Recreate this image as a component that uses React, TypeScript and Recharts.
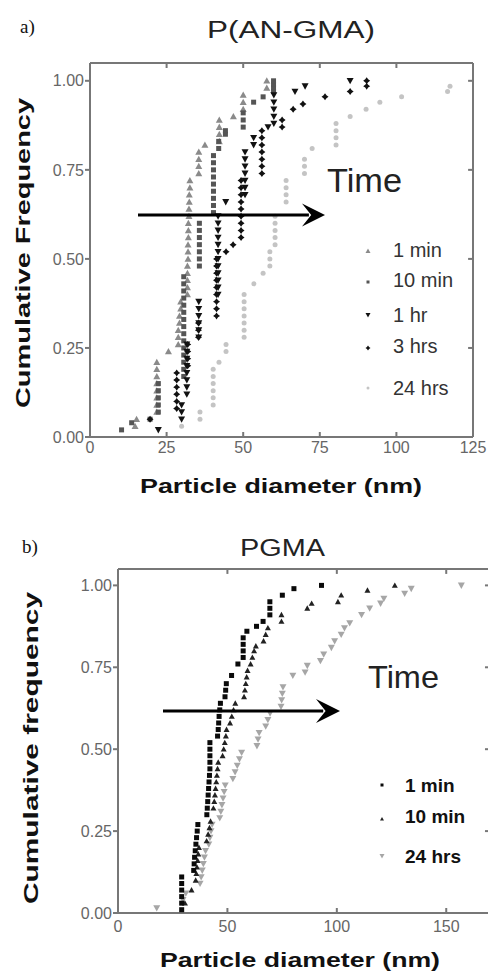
import React from "react";
import { ScatterChart, Scatter, XAxis, YAxis, ReferenceLine } from "recharts";

type Pt = [number, number];

// a) P(AN-GMA): [particle diameter (nm), cumulative frequency]
const anMin1: Pt[] = [
  [14.7, 0.03], [15.2, 0.05],
  [21.8, 0.07], [21.8, 0.09], [21.8, 0.11], [21.8, 0.13], [21.8, 0.15], [21.8, 0.17], [21.8, 0.19], [21.8, 0.21],
  [25.6, 0.24],
  [28.8, 0.26], [28.8, 0.28], [28.8, 0.3], [29.2, 0.32], [29.2, 0.34], [29.6, 0.36], [29.6, 0.38],
  [31.8, 0.4], [31.8, 0.42], [31.8, 0.44], [31.8, 0.46], [31.8, 0.48], [32.0, 0.5], [32.0, 0.52], [32.0, 0.54],
  [32.1, 0.56], [32.1, 0.58], [32.1, 0.6], [32.3, 0.62], [32.3, 0.64], [32.4, 0.66], [32.4, 0.68], [32.6, 0.7], [32.6, 0.72],
  [35.5, 0.74], [35.5, 0.76], [35.5, 0.78], [35.5, 0.8],
  [37.5, 0.82],
  [42.2, 0.83], [42.2, 0.85], [42.2, 0.87], [42.2, 0.89],
  [46.8, 0.9],
  [50.0, 0.92], [50.0, 0.94], [50.0, 0.96],
  [57.7, 0.98], [57.7, 1.0],
];

const anMin10: Pt[] = [
  [10.3, 0.02], [13.6, 0.04], [19.6, 0.05],
  [22.3, 0.07], [22.3, 0.09], [22.3, 0.11], [22.3, 0.13], [22.3, 0.15],
  [30.6, 0.17], [30.6, 0.19], [30.6, 0.21], [30.6, 0.23], [30.6, 0.25], [30.6, 0.27], [30.6, 0.29], [30.6, 0.31],
  [30.6, 0.33], [30.6, 0.35], [30.6, 0.37], [30.6, 0.39], [30.6, 0.41], [30.6, 0.43], [30.6, 0.45],
  [35.7, 0.48], [35.7, 0.5], [35.7, 0.52], [35.7, 0.54], [35.7, 0.56], [35.7, 0.58], [35.7, 0.6],
  [40.3, 0.63], [40.3, 0.65], [40.3, 0.67], [40.3, 0.69], [40.3, 0.71], [40.3, 0.73], [40.3, 0.75], [40.3, 0.77], [40.3, 0.79],
  [42.0, 0.81], [42.0, 0.83], [44.2, 0.85], [44.2, 0.86],
  [50.0, 0.87], [50.0, 0.89], [50.0, 0.91],
  [53.4, 0.94], [56.5, 0.955],
  [59.9, 0.97], [59.9, 0.98], [59.9, 0.99], [59.9, 1.0],
];

const anHr1: Pt[] = [
  [22.3, 0.02],
  [29.9, 0.05], [29.9, 0.07], [29.9, 0.09],
  [31.6, 0.12], [31.6, 0.14], [31.6, 0.16], [31.6, 0.18], [31.6, 0.2], [31.6, 0.22], [31.6, 0.24], [31.6, 0.26],
  [35.5, 0.28], [35.5, 0.3], [35.5, 0.32], [35.5, 0.34], [35.5, 0.36], [35.5, 0.38],
  [41.8, 0.4], [41.8, 0.42], [41.8, 0.44], [41.8, 0.46], [41.8, 0.48], [41.8, 0.5], [41.8, 0.52], [41.8, 0.54],
  [41.8, 0.56], [41.8, 0.58], [41.8, 0.6], [41.8, 0.62],
  [44.3, 0.66],
  [50.6, 0.68], [50.6, 0.7], [50.6, 0.72], [50.6, 0.74], [50.6, 0.76], [50.6, 0.78], [50.6, 0.8],
  [53.4, 0.82], [53.4, 0.84],
  [58.1, 0.87],
  [60.0, 0.88], [60.0, 0.9], [60.0, 0.92], [60.0, 0.94], [60.0, 0.96],
  [66.9, 0.97], [70.2, 0.985], [84.9, 1.0],
];

const anHr3: Pt[] = [
  [19.6, 0.05],
  [28.3, 0.08], [28.3, 0.1], [28.3, 0.12], [28.3, 0.14], [28.3, 0.16], [28.3, 0.18],
  [31.9, 0.2], [31.9, 0.22], [31.9, 0.24], [31.9, 0.26],
  [35.4, 0.28], [35.4, 0.3], [35.4, 0.32],
  [41.3, 0.34], [41.3, 0.36], [41.3, 0.38], [41.3, 0.4], [41.3, 0.42], [41.3, 0.44], [41.3, 0.46], [41.3, 0.48], [41.3, 0.5],
  [44.4, 0.52], [46.7, 0.54],
  [49.3, 0.56], [49.3, 0.58], [49.3, 0.6], [49.3, 0.62], [49.3, 0.64], [49.3, 0.66], [49.3, 0.68], [49.3, 0.7], [49.3, 0.72],
  [56.1, 0.74], [56.1, 0.76], [56.1, 0.78], [56.1, 0.8], [56.1, 0.82], [56.1, 0.84], [56.1, 0.86],
  [62.7, 0.87], [62.7, 0.89],
  [66.3, 0.92], [69.5, 0.935], [76.7, 0.955], [84.9, 0.97], [90.3, 0.985], [90.3, 1.0],
];

const anHr24: Pt[] = [
  [29.9, 0.03], [35.9, 0.05], [35.9, 0.07],
  [40.2, 0.09], [40.2, 0.11], [40.2, 0.13], [40.2, 0.15], [40.2, 0.17], [40.2, 0.19],
  [42.1, 0.21],
  [44.4, 0.24], [44.4, 0.26],
  [50.3, 0.28], [50.3, 0.3], [50.3, 0.32], [50.3, 0.34], [50.3, 0.36], [50.3, 0.38], [50.3, 0.4],
  [53.5, 0.43], [56.5, 0.46],
  [58.7, 0.48], [58.7, 0.5], [58.7, 0.52],
  [60.4, 0.54], [60.4, 0.56], [60.4, 0.58], [60.4, 0.6], [60.4, 0.62],
  [64.0, 0.66], [64.0, 0.68], [64.0, 0.7], [64.0, 0.72],
  [70.0, 0.74], [70.0, 0.76], [70.0, 0.78],
  [72.5, 0.81],
  [80.3, 0.82], [80.3, 0.84], [80.3, 0.86], [80.3, 0.88],
  [84.9, 0.9], [90.1, 0.92], [94.6, 0.94], [101.7, 0.955], [116.7, 0.97], [117.5, 0.985],
];

// b) PGMA
const gmMin1: Pt[] = [
  [29.1, 0.01], [29.1, 0.03], [29.1, 0.05], [29.1, 0.07], [29.1, 0.09], [29.1, 0.11],
  [34.6, 0.13], [34.8, 0.15], [35.0, 0.17], [35.3, 0.19], [35.6, 0.21], [35.9, 0.23], [36.2, 0.25], [36.5, 0.27],
  [40.6, 0.3], [40.8, 0.32], [41.0, 0.34], [41.2, 0.36], [41.4, 0.38], [41.6, 0.4], [41.8, 0.42],
  [42.0, 0.44], [42.0, 0.46], [42.0, 0.48], [42.0, 0.5], [42.0, 0.52],
  [45.5, 0.54], [45.8, 0.56], [46.0, 0.58], [46.2, 0.6], [46.5, 0.62], [46.8, 0.64],
  [48.9, 0.66], [49.2, 0.68], [49.5, 0.7],
  [51.9, 0.725], [54.8, 0.76],
  [57.2, 0.78], [57.2, 0.8], [57.2, 0.82], [57.2, 0.84],
  [58.9, 0.86], [63.3, 0.875], [66.3, 0.89],
  [69.4, 0.91], [69.4, 0.93], [69.4, 0.95],
  [75.1, 0.97], [80.4, 0.99], [93.0, 1.0],
];

const gmMin10: Pt[] = [
  [30.6, 0.03], [33.6, 0.07],
  [35.5, 0.1], [35.8, 0.12], [36.1, 0.14], [36.4, 0.16], [36.7, 0.18], [37.0, 0.2],
  [40.5, 0.22], [41.2, 0.24], [41.8, 0.26], [42.3, 0.28],
  [43.6, 0.32], [44.0, 0.34], [44.3, 0.36], [44.6, 0.38], [44.9, 0.4], [45.2, 0.42], [45.5, 0.44], [45.8, 0.46],
  [47.8, 0.48], [48.3, 0.5], [48.8, 0.52], [49.3, 0.54], [49.6, 0.56],
  [51.2, 0.58], [52.0, 0.6], [52.8, 0.62], [53.6, 0.64],
  [57.6, 0.66], [58.0, 0.68], [58.4, 0.7], [58.8, 0.72], [59.2, 0.74],
  [60.6, 0.76], [61.4, 0.78], [62.2, 0.8], [63.0, 0.815],
  [66.5, 0.83], [67.5, 0.85], [68.5, 0.87],
  [74.7, 0.89], [74.7, 0.91],
  [86.5, 0.93], [88.5, 0.945],
  [100.5, 0.95], [102.0, 0.97],
  [114.0, 0.985], [126.5, 1.0],
];

const gmHr24: Pt[] = [
  [17.7, 0.015], [29.7, 0.04], [31.0, 0.06],
  [37.5, 0.09], [38.0, 0.11], [38.5, 0.13], [39.0, 0.15], [39.5, 0.17], [40.0, 0.19],
  [41.5, 0.21], [42.0, 0.23], [42.5, 0.25], [43.0, 0.27],
  [46.5, 0.29], [47.0, 0.31], [47.5, 0.33], [48.0, 0.35], [48.5, 0.37], [49.0, 0.39],
  [52.5, 0.41], [53.5, 0.43], [54.5, 0.45], [55.5, 0.47], [56.5, 0.49],
  [63.5, 0.51], [64.0, 0.53], [64.5, 0.55],
  [67.5, 0.57], [68.5, 0.59], [69.5, 0.61],
  [74.5, 0.63], [74.8, 0.65], [75.1, 0.67], [75.4, 0.69],
  [79.9, 0.725], [85.5, 0.735], [86.5, 0.755],
  [92.5, 0.77], [94.0, 0.79],
  [97.5, 0.81], [99.0, 0.83],
  [102.0, 0.85], [103.5, 0.87],
  [105.9, 0.885], [111.3, 0.91], [115.0, 0.93],
  [120.0, 0.945], [121.5, 0.96],
  [131.0, 0.975], [134.0, 0.99], [156.9, 1.0],
];

const xTicksA = [0, 25, 50, 75, 100, 125];
const xTicksB = [0, 50, 100, 150];
const yTicks = [0, 0.25, 0.5, 0.75, 1.0];
const Y_MAX = 1.05;

const FONT = "'Liberation Sans', Arial, sans-serif";
const FRAME = "#777777";

const rows = (pts: Pt[]) => pts.map(([d, f]) => ({ d, f }));

// marker shapes
function marker(kind: string, size: number, fill: string) {
  return (p: any) => {
    const { cx, cy } = p;
    const h = size / 2;
    if (kind === "up")
      return <polygon points={`${cx - h},${cy + h * 0.8} ${cx + h},${cy + h * 0.8} ${cx},${cy - h}`} fill={fill} />;
    if (kind === "down")
      return <polygon points={`${cx - h},${cy - h * 0.8} ${cx + h},${cy - h * 0.8} ${cx},${cy + h}`} fill={fill} />;
    if (kind === "square")
      return <rect x={cx - h} y={cy - h} width={size} height={size} fill={fill} />;
    if (kind === "star") {
      const q = h * 0.42;
      return (
        <polygon
          points={`${cx},${cy - h} ${cx + q},${cy - q} ${cx + h},${cy} ${cx + q},${cy + q} ${cx},${cy + h} ${cx - q},${cy + q} ${cx - h},${cy} ${cx - q},${cy - q}`}
          fill={fill}
        />
      );
    }
    return <circle cx={cx} cy={cy} r={h} fill={fill} />;
  };
}

type Series = { name: string; pts: Pt[]; kind: string; size: number; fill: string };

const seriesA: Series[] = [
  { name: "24 hrs", pts: anHr24, kind: "circle", size: 5, fill: "#c4c4c4" },
  { name: "1 min", pts: anMin1, kind: "up", size: 7, fill: "#8a8a8a" },
  { name: "10 min", pts: anMin10, kind: "square", size: 5, fill: "#555555" },
  { name: "1 hr", pts: anHr1, kind: "down", size: 7, fill: "#111111" },
  { name: "3 hrs", pts: anHr3, kind: "star", size: 7, fill: "#111111" },
];

const seriesB: Series[] = [
  { name: "24 hrs", pts: gmHr24, kind: "down", size: 7, fill: "#a6a6a6" },
  { name: "10 min", pts: gmMin10, kind: "up", size: 6, fill: "#222222" },
  { name: "1 min", pts: gmMin1, kind: "square", size: 5, fill: "#0a0a0a" },
];

const tickStyle = { fill: "#666", fontSize: 16, fontFamily: FONT };

function PanelA() {
  return (
    <ScatterChart width={488} height={470} margin={{ top: 63, right: 15, bottom: 13, left: 30 }}>
      <XAxis type="number" dataKey="d" domain={[0, 125]} ticks={xTicksA} height={20} tickSize={-5} tickMargin={10}
        stroke={FRAME} strokeWidth={2} tick={tickStyle} />
      <YAxis type="number" dataKey="f" domain={[0, Y_MAX]} ticks={yTicks} width={60} tickSize={5} tickMargin={1}
        stroke={FRAME} strokeWidth={2} tick={tickStyle} tickFormatter={(v: number) => v.toFixed(2)} />
      <ReferenceLine y={Y_MAX} stroke={FRAME} strokeWidth={2} ifOverflow="visible" />
      <ReferenceLine x={125} stroke={FRAME} strokeWidth={2} ifOverflow="visible" />
      {xTicksA.map((t) => (
        <ReferenceLine key={"ta" + t} segment={[{ x: t, y: Y_MAX }, { x: t, y: Y_MAX - 0.014 }]} stroke={FRAME} strokeWidth={2} ifOverflow="visible" />
      ))}
      {yTicks.map((t) => (
        <ReferenceLine key={"ra" + t} segment={[{ x: 125 - 1.6, y: t }, { x: 125, y: t }]} stroke={FRAME} strokeWidth={2} ifOverflow="visible" />
      ))}
      {seriesA.map((s) => (
        <Scatter key={s.name} name={s.name} data={rows(s.pts)} shape={marker(s.kind, s.size, s.fill)} isAnimationActive={false} />
      ))}
    </ScatterChart>
  );
}

function PanelB() {
  return (
    <ScatterChart width={500} height={420} margin={{ top: 49, right: 10, bottom: 7, left: 58 }}>
      <XAxis type="number" dataKey="d" domain={[0, 170]} ticks={xTicksB} height={20} tickSize={-5} tickMargin={13}
        stroke={FRAME} strokeWidth={2} tick={tickStyle} />
      <YAxis type="number" dataKey="f" domain={[0, Y_MAX]} ticks={yTicks} width={60} tickSize={5} tickMargin={1}
        stroke={FRAME} strokeWidth={2} tick={tickStyle} tickFormatter={(v: number) => v.toFixed(2)} />
      <ReferenceLine y={Y_MAX} stroke={FRAME} strokeWidth={2} ifOverflow="visible" />
      {xTicksB.map((t) => (
        <ReferenceLine key={"tb" + t} segment={[{ x: t, y: Y_MAX }, { x: t, y: Y_MAX - 0.015 }]} stroke={FRAME} strokeWidth={2} ifOverflow="visible" />
      ))}
      {yTicks.map((t) => (
        <ReferenceLine key={"rb" + t} segment={[{ x: 170 - 2.3, y: t }, { x: 170, y: t }]} stroke={FRAME} strokeWidth={2} ifOverflow="visible" />
      ))}
      {seriesB.map((s) => (
        <Scatter key={s.name} name={s.name} data={rows(s.pts)} shape={marker(s.kind, s.size, s.fill)} isAnimationActive={false} />
      ))}
    </ScatterChart>
  );
}

function Arrow({ x1, x2, y, head }: { x1: number; x2: number; y: number; head: number }) {
  return (
    <g>
      <line x1={x1} y1={y} x2={x2 - head * 0.7} y2={y} stroke="#000" strokeWidth={3} />
      <path
        d={`M${x2},${y} L${x2 - head},${y - head * 0.5} L${x2 - head * 0.6},${y} L${x2 - head},${y + head * 0.5} Z`}
        fill="#000"
      />
    </g>
  );
}

function LegendRows({ items, mx, tx, rowsY, bold }: { items: Series[]; mx: number; tx: number; rowsY: [number, number][]; bold?: boolean }) {
  return (
    <g>
      {items.map((s, i) => (
        <g key={s.name}>
          {marker(s.kind, s.size - 2, s.fill)({ cx: mx, cy: rowsY[i][0] })}
          <text x={tx} y={rowsY[i][1]} fontSize={bold ? 19 : 20} fontWeight={bold ? "bold" : "normal"}
            fill={bold ? "#111" : "#333"} fontFamily={FONT}>
            {s.name}
          </text>
        </g>
      ))}
    </g>
  );
}

export default function App() {
  const legendA = [seriesA[1], seriesA[2], seriesA[3], seriesA[4], seriesA[0]];
  const legendB = [seriesB[2], seriesB[1], seriesB[0]];
  return (
    <div style={{ position: "absolute", left: 0, top: 0, width: 488, height: 975, overflow: "hidden", background: "#fff" }}>
      <div style={{ position: "absolute", left: 0, top: 0 }}>
        <PanelA />
      </div>
      <div style={{ position: "absolute", left: 0, top: 520 }}>
        <PanelB />
      </div>
      <svg width={488} height={975} style={{ position: "absolute", left: 0, top: 0, pointerEvents: "none" }}>
        {/* panel a */}
        <text x={20} y={33} fontSize={19} fontFamily="'Liberation Serif', serif" fill="#111">a)</text>
        <text x={207} y={38} fontSize={23} fontFamily={FONT} fill="#222" textLength={168} lengthAdjust="spacingAndGlyphs">
          P(AN-GMA)
        </text>
        <text transform="translate(30,253) rotate(-90)" textAnchor="middle" fontSize={20} fontWeight="bold"
          fontFamily={FONT} fill="#111" textLength={310} lengthAdjust="spacingAndGlyphs">
          Cumulative Frequency
        </text>
        <text x={140} y={493} fontSize={21} fontWeight="bold" fontFamily={FONT} fill="#111" textLength={282} lengthAdjust="spacingAndGlyphs">
          Particle diameter (nm)
        </text>
        <text x={327} y={192} fontSize={34} fontFamily={FONT} fill="#222" textLength={75} lengthAdjust="spacingAndGlyphs">
          Time
        </text>
        <Arrow x1={138} x2={325} y={215} head={23} />
        <LegendRows items={legendA} mx={368} tx={393}
          rowsY={[[251, 257], [282, 287], [315, 322], [348, 353], [388, 395]]} />

        {/* panel b */}
        <text x={22} y={553} fontSize={19} fontFamily="'Liberation Serif', serif" fill="#111">b)</text>
        <text x={240} y={556} fontSize={23} fontFamily={FONT} fill="#222" textLength={85} lengthAdjust="spacingAndGlyphs">
          PGMA
        </text>
        <text transform="translate(38,748) rotate(-90)" textAnchor="middle" fontSize={20} fontWeight="bold"
          fontFamily={FONT} fill="#111" textLength={312} lengthAdjust="spacingAndGlyphs">
          Cumulative frequency
        </text>
        <text x={160} y={967} fontSize={21} fontWeight="bold" fontFamily={FONT} fill="#111" textLength={280} lengthAdjust="spacingAndGlyphs">
          Particle diameter (nm)
        </text>
        <text x={368} y={688} fontSize={32} fontFamily={FONT} fill="#222" textLength={71} lengthAdjust="spacingAndGlyphs">
          Time
        </text>
        <Arrow x1={163} x2={340} y={711} head={24} />
        <LegendRows items={legendB} mx={382} tx={405} rowsY={[[785, 792], [819, 823], [856, 863]]} bold />
      </svg>
    </div>
  );
}
